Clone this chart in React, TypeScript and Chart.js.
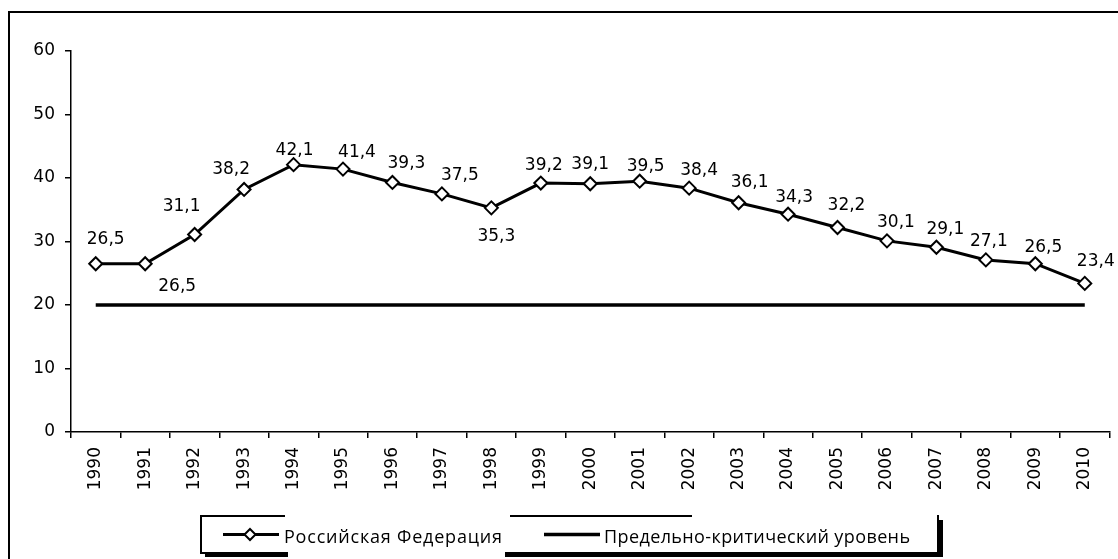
import { useEffect, useRef } from 'react';
import { Chart, registerables } from 'chart.js';

Chart.register(...registerables);

const years = ['1990', '1991', '1992', '1993', '1994', '1995', '1996', '1997', '1998', '1999', '2000', '2001', '2002', '2003', '2004', '2005', '2006', '2007', '2008', '2009', '2010'];
const rfValues = [26.5, 26.5, 31.1, 38.2, 42.1, 41.4, 39.3, 37.5, 35.3, 39.2, 39.1, 39.5, 38.4, 36.1, 34.3, 32.2, 30.1, 29.1, 27.1, 26.5, 23.4];
const criticalLevel = [20, 20, 20, 20, 20, 20, 20, 20, 20, 20, 20, 20, 20, 20, 20, 20, 20, 20, 20, 20, 20];
const yTickValues = [0, 10, 20, 30, 40, 50, 60];
const seriesNames = ['Российская Федерация', 'Предельно-критический уровень'];

// label placement offsets (dx, dy) relative to each point
const labelOffsets: [number, number][] = [
  [10, -24], [32, 23], [-13, -28], [-13, -20], [1, -14], [14, -17], [14, -19], [18, -18],
  [5, 29], [3, -18], [0, -19], [6, -15], [10, -18], [11, -20], [6, -17], [9, -22],
  [9, -18], [9, -18], [3, -18], [8, -16], [11, -22],
];

const fmt = (v: number) => v.toFixed(1).replace('.', ',');

const labelsPlugin = {
  id: 'pointLabels',
  afterDatasetsDraw(chart: any) {
    const ctx = chart.ctx;
    const meta = chart.getDatasetMeta(0);
    ctx.save();
    ctx.font = '17px "DejaVu Sans"';
    ctx.fillStyle = '#000';
    ctx.textAlign = 'center';
    ctx.textBaseline = 'middle';
    meta.data.forEach((pt: any, i: number) => {
      const [dx, dy] = labelOffsets[i] || [8, -18];
      ctx.fillText(fmt(rfValues[i]), pt.x + dx, pt.y + dy);
    });
    ctx.restore();
  },
};

function drawFitted(ctx: any, text: string, x: number, y: number, target: number) {
  ctx.letterSpacing = '0px';
  const w = ctx.measureText(text).width;
  const n = text.length;
  if (w < target && n > 1) {
    const ls = (target - w) / (n - 1);
    ctx.letterSpacing = ls.toFixed(2) + 'px';
  }
  ctx.fillText(text, x, y);
  ctx.letterSpacing = '0px';
}

const legendPlugin = {
  id: 'customLegend',
  afterDraw(chart: any) {
    const ctx = chart.ctx;
    ctx.save();
    ctx.strokeStyle = '#000';
    ctx.fillStyle = '#000';
    // box borders
    ctx.lineWidth = 2;
    ctx.beginPath();
    ctx.moveTo(201, 515);
    ctx.lineTo(201, 554);
    ctx.moveTo(200, 516);
    ctx.lineTo(285, 516);
    ctx.moveTo(510, 516);
    ctx.lineTo(692, 516);
    ctx.moveTo(938, 515);
    ctx.lineTo(938, 554);
    ctx.moveTo(200, 553);
    ctx.lineTo(939, 553);
    ctx.stroke();
    // shadow
    ctx.fillRect(205, 553, 738, 4);
    ctx.fillRect(939, 520, 4, 37);
    // white gap under first label
    ctx.fillStyle = '#fff';
    ctx.fillRect(288, 551, 217, 8);

    // item 1: line with diamond marker
    ctx.lineWidth = 3;
    ctx.beginPath();
    ctx.moveTo(223, 534.5);
    ctx.lineTo(279, 534.5);
    ctx.stroke();
    ctx.lineWidth = 2;
    ctx.fillStyle = '#fff';
    ctx.beginPath();
    ctx.moveTo(250, 529);
    ctx.lineTo(255.5, 534.5);
    ctx.lineTo(250, 540);
    ctx.lineTo(244.5, 534.5);
    ctx.closePath();
    ctx.fill();
    ctx.stroke();

    // item 2: thick line
    ctx.lineWidth = 3.5;
    ctx.beginPath();
    ctx.moveTo(544, 534.5);
    ctx.lineTo(600, 534.5);
    ctx.stroke();

    ctx.fillStyle = '#000';
    ctx.font = '18px "Open Sans"';
    ctx.textAlign = 'left';
    ctx.textBaseline = 'alphabetic';
    drawFitted(ctx, seriesNames[0], 284, 543, 218);
    drawFitted(ctx, seriesNames[1], 604, 543, 306);
    ctx.restore();
  },
};

export default function App() {
  const ref = useRef<HTMLCanvasElement>(null);
  useEffect(() => {
    const canvas = ref.current!;
    const chart = new Chart(canvas, {
      type: 'line',
      data: {
        labels: years,
        datasets: [
          {
            label: seriesNames[0],
            data: rfValues,
            borderColor: '#000',
            borderWidth: 3,
            pointStyle: 'rectRot',
            pointRadius: 6.5,
            pointBorderWidth: 2,
            pointBackgroundColor: '#fff',
            pointBorderColor: '#000',
            tension: 0,
            clip: false,
          } as any,
          {
            label: seriesNames[1],
            data: criticalLevel,
            borderColor: '#000',
            borderWidth: 3.5,
            pointRadius: 0,
            tension: 0,
          },
        ],
      },
      options: {
        responsive: false,
        animation: false,
        events: [],
        layout: { padding: { top: 51, right: 6, left: 0, bottom: 0 } },
        plugins: { legend: { display: false }, tooltip: { enabled: false } },
        scales: {
          x: {
            offset: true,
            grid: { offset: true, drawOnChartArea: false, tickLength: 6, color: '#000', lineWidth: 1.5 },
            border: { color: '#000', width: 1.5 },
            ticks: {
              minRotation: 90,
              maxRotation: 90,
              autoSkip: false,
              color: '#000',
              padding: 9,
              font: { size: 17, family: 'DejaVu Sans' },
            },
            afterFit: (s: any) => {
              s.height = 127;
            },
          },
          y: {
            min: 0,
            max: 60,
            afterBuildTicks: (s: any) => {
              s.ticks = yTickValues.map((v) => ({ value: v }));
            },
            grid: { drawOnChartArea: false, tickLength: 6, color: '#000', lineWidth: 1.5 },
            border: { color: '#000', width: 1.5 },
            ticks: { color: '#000', padding: 10, font: { size: 17, family: 'DejaVu Sans' } },
            afterFit: (s: any) => {
              s.width = 71;
            },
          },
        },
      } as any,
      plugins: [labelsPlugin, legendPlugin],
    });
    return () => chart.destroy();
  }, []);

  return (
    <div style={{ position: 'fixed', left: 0, top: 0, width: 1118, height: 559, background: '#fff', overflow: 'hidden' }}>
      <div
        style={{
          position: 'absolute',
          left: 8,
          top: 11,
          width: 1130,
          height: 570,
          borderLeft: '2px solid #000',
          borderTop: '2px solid #000',
        }}
      />
      <canvas ref={ref} width={1118} height={559} style={{ position: 'absolute', left: 0, top: 0 }} />
    </div>
  );
}
